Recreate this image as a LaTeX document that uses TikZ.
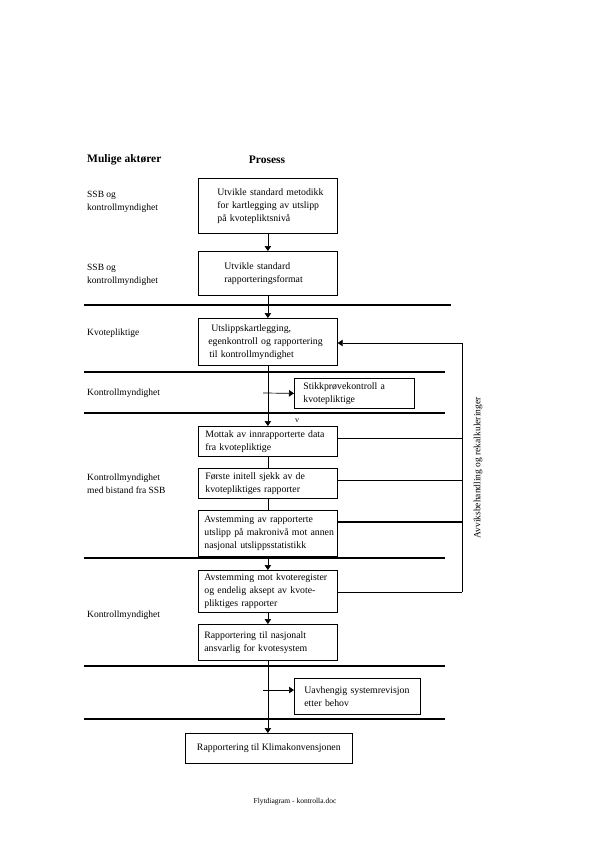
\documentclass[tikz,border=0pt]{standalone}
\usepackage{fontspec}
\setmainfont{Liberation Serif}
\usetikzlibrary{arrows.meta}
\begin{document}
\begin{tikzpicture}[x=1pt,y=-1pt,
  every node/.style={font=\fontsize{9.5}{12.8}\selectfont},
  pbox/.style n args={3}{draw, line width=0.7pt, anchor=north west, align=left,
    inner ysep=0pt, inner xsep=0pt, minimum height=#1, text width=#2,
    font=\fontsize{9.8}{13}\selectfont, execute at begin node={\leftskip=#3\relax}},
  cbox/.style 2 args={draw, line width=0.7pt, anchor=north west, align=center,
    inner sep=0pt, minimum height=#1, minimum width=#2,
    font=\fontsize{9.8}{13}\selectfont},
  lbl/.style={anchor=west, align=left, inner sep=0pt},
  hdr/.style={inner sep=0pt, font=\fontsize{11.5}{13}\selectfont\bfseries},
  sep/.style={line width=1.5pt},
  conn/.style={line width=0.7pt},
  arr/.style={line width=0.7pt, -{Triangle[length=5pt,width=6.5pt]}}]
\useasboundingbox[fill=white] (0,0) rectangle (595,842);

% headers
\node[hdr, anchor=west] (hA) at (87,160) {Mulige aktører};
\node[hdr] (hP) at (267,160) {Prosess};

% actor labels
\node[lbl] (a1) at (87,201.5) {SSB og\\kontrollmyndighet};
\node[lbl] (a2) at (87,274.5) {SSB og\\kontrollmyndighet};
\node[lbl] (a3) at (87,333) {Kvotepliktige};
\node[lbl] (a4) at (87,393) {Kontrollmyndighet};
\node[lbl] (a5) at (87,483.5) {Kontrollmyndighet\\med bistand fra SSB};
\node[lbl] (a6) at (87,615) {Kontrollmyndighet};

% separators
\draw[sep] (84,305) -- (451,305);
\draw[sep] (84,372) -- (445,372);
\draw[sep] (84,413) -- (445,413);
\draw[sep] (84,558) -- (445,558);
\draw[sep] (84,666) -- (445,666);
\draw[sep] (84,719) -- (445,719);

% process boxes
\node[pbox={55}{139pt}{19pt}] (B1) at (198,178) {Utvikle standard metodikk\\for kartlegging av utslipp\\på kvotepliktsnivå};
\node[pbox={44}{139pt}{26pt}] (B2) at (198,251) {Utvikle standard\\rapporteringsformat};
\node[pbox={47}{139pt}{10pt}] (B3) at (198,318) {\hspace*{3pt}Utslippskartlegging,\\egenkontroll og rapportering\\\hspace*{1pt}til kontrollmyndighet};
\node[pbox={30}{120pt}{9pt}] (S1) at (294,378) {Stikkprøvekontroll a\\kvotepliktige};
\node[pbox={30}{139pt}{7pt}] (B4) at (198,426) {Mottak av innrapporterte data\\fra kvotepliktige};
\node[pbox={30}{139pt}{7pt}] (B5) at (198,468) {Første initell sjekk av de\\kvotepliktiges rapporter};
\node[pbox={46}{139pt}{6pt}] (B6) at (198,510) {Avstemming av rapporterte\\utslipp på makronivå mot annen\\nasjonal utslippsstatistikk};
\node[pbox={42}{139pt}{6pt}] (B7) at (198,570) {Avstemming mot kvoteregister\\og endelig aksept av kvote-\\pliktiges rapporter};
\node[pbox={36}{139pt}{6pt}] (B8) at (198,624) {Rapportering til nasjonalt\\ansvarlig for kvotesystem};
\node[pbox={36}{126pt}{10pt}] (U1) at (294,678) {Uavhengig systemrevisjon\\etter behov};
\node[cbox={30}{167}] (B9) at (185,733) {Rapportering til Klimakonvensjonen};

% stray mark
\node[inner sep=0pt, font=\fontsize{8}{9}\selectfont] (v1) at (297,421) {v};

% main flow
\draw[arr] (B1) -- (B2);
\draw[arr] (B2) -- (B3);
\draw[arr] (B3) -- (B4);
\draw[conn] (B4) -- (B5);
\draw[conn] (B5) -- (B6);
\draw[arr] (B6) -- (B7);
\draw[arr] (B7) -- (B8);
\draw[arr] (B8.south) -- (B9.north -| B8.south);

% side checks
\coordinate (t1) at (263,393);
\draw[arr] (t1) -- (S1.west);
\coordinate (t2) at (263,690);
\draw[arr] (t2) -- (t2 -| U1.west);

% feedback loop
\coordinate (fbtop) at (462,343);
\coordinate (fbbot) at (462,592);
\draw[conn] (fbbot) -- (fbtop);
\draw[arr] (fbtop) -- (fbtop -| B3.east);
\coordinate (b4r) at ([yshift=-12pt]B4.north east);
\coordinate (b5r) at ([yshift=-12pt]B5.north east);
\coordinate (b6r) at ([yshift=-12pt]B6.north east);
\coordinate (b7r) at ([yshift=-22pt]B7.north east);
\draw[conn] (b4r) -- (b4r -| fbtop);
\draw[conn] (b5r) -- (b5r -| fbtop);
\draw[sep] (b6r) -- (b6r -| fbtop);
\draw[conn] (b7r) -- (b7r -| fbtop);
\node[rotate=90, inner sep=0pt] (fbl) at (478,468) {Avviksbehandling og rekalkuleringer};

% footer
\node[inner sep=0pt, font=\fontsize{7.5}{9}\selectfont] (ft) at (295,802) {Flytdiagram - kontrolla.doc};
\end{tikzpicture}
\end{document}
